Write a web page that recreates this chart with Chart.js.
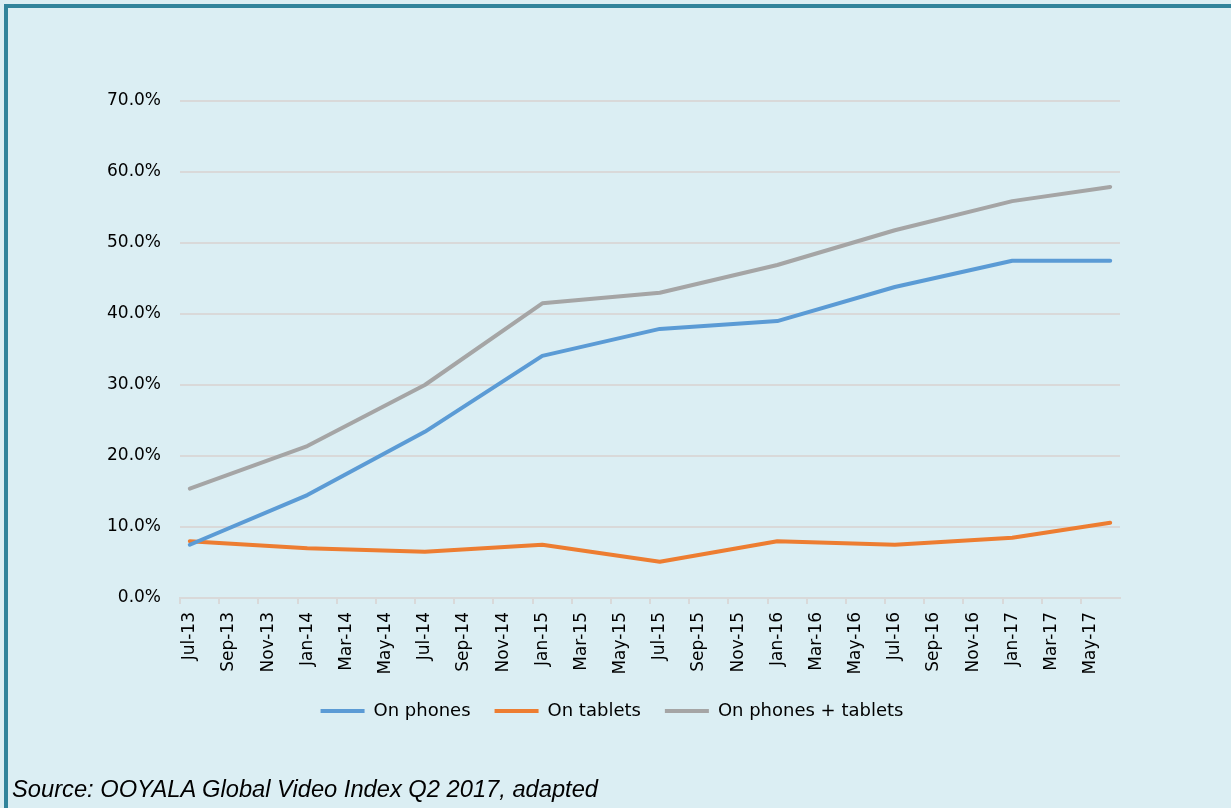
<!DOCTYPE html>
<html>
<head>
<meta charset="utf-8">
<script src="https://cdn.jsdelivr.net/npm/chart.js@4/dist/chart.umd.min.js"></script>
<style>
  html, body { margin: 0; padding: 0; background: #dbeef3; }
  #wrap { position: relative; width: 1231px; height: 808px; overflow: hidden; background: #dbeef3; }
  #topBorder { position: absolute; left: 4px; top: 4px; width: 1227px; height: 4px; background: #31849b; }
  #leftBorder { position: absolute; left: 4px; top: 4px; width: 4px; height: 804px; background: #31849b; }
  #chart { position: absolute; left: 0; top: 0; }
  #source { position: absolute; left: 12px; top: 776px; font: italic 23.7px "Liberation Sans", Arial, sans-serif; color: #000; white-space: nowrap; }
</style>
</head>
<body>
<div id="wrap">
  <div id="topBorder"></div>
  <div id="leftBorder"></div>
  <canvas id="chart" width="1231" height="808"></canvas>
  <div id="source">Source: OOYALA Global Video Index Q2 2017, adapted</div>
</div>
<script>
// monthly categories, Jul-13 .. Jun-17
const months = [
  "Jul-13", "Aug-13", "Sep-13", "Oct-13", "Nov-13", "Dec-13",
  "Jan-14", "Feb-14", "Mar-14", "Apr-14", "May-14", "Jun-14",
  "Jul-14", "Aug-14", "Sep-14", "Oct-14", "Nov-14", "Dec-14",
  "Jan-15", "Feb-15", "Mar-15", "Apr-15", "May-15", "Jun-15",
  "Jul-15", "Aug-15", "Sep-15", "Oct-15", "Nov-15", "Dec-15",
  "Jan-16", "Feb-16", "Mar-16", "Apr-16", "May-16", "Jun-16",
  "Jul-16", "Aug-16", "Sep-16", "Oct-16", "Nov-16", "Dec-16",
  "Jan-17", "Feb-17", "Mar-17", "Apr-17", "May-17", "Jun-17"
];

// labels shown on the axis (every second month)
const tickLabels = [
  "Jul-13", "Sep-13", "Nov-13", "Jan-14", "Mar-14", "May-14",
  "Jul-14", "Sep-14", "Nov-14", "Jan-15", "Mar-15", "May-15",
  "Jul-15", "Sep-15", "Nov-15", "Jan-16", "Mar-16", "May-16",
  "Jul-16", "Sep-16", "Nov-16", "Jan-17", "Mar-17", "May-17"
];

// months that have a measurement
const pointMonths = ["Jul-13", "Jan-14", "Jul-14", "Jan-15", "Jul-15", "Jan-16", "Jul-16", "Jan-17", "Jun-17"];

const onPhones  = [7.5, 14.5, 23.4, 34.1, 37.9, 39.0, 43.8, 47.5, 47.5];
const onTablets = [8.0, 7.0, 6.5, 7.5, 5.1, 8.0, 7.5, 8.5, 10.6];
const onBoth    = [15.4, 21.4, 30.0, 41.5, 43.0, 46.9, 51.8, 55.9, 57.9];

const yTicks = [0, 10, 20, 30, 40, 50, 60, 70];

function toPoints(values) {
  return pointMonths.map((m, i) => ({ x: m, y: values[i] }));
}

function lineSet(label, values, color) {
  return {
    label: label,
    data: toPoints(values),
    borderColor: color,
    backgroundColor: color,
    borderWidth: 4,
    borderCapStyle: "round",
    borderJoinStyle: "round",
    pointRadius: 0,
    pointHoverRadius: 0,
    tension: 0,
    spanGaps: true,
    pointStyle: "line"
  };
}

Chart.defaults.font.family = "'DejaVu Sans', sans-serif";
Chart.defaults.font.size = 17;
Chart.defaults.color = "#000";

const ctx = document.getElementById("chart");
const chart = new Chart(ctx, {
  type: "line",
  data: {
    labels: months,
    datasets: [
      lineSet("On phones", onPhones, "#5b9bd5"),
      lineSet("On tablets", onTablets, "#ed7d31"),
      lineSet("On phones + tablets", onBoth, "#a5a5a5")
    ]
  },
  options: {
    responsive: false,
    animation: false,
    devicePixelRatio: 1,
    layout: { padding: { left: 104, right: 111, top: 101, bottom: 78 } },
    plugins: {
      tooltip: { enabled: false },
      legend: {
        position: "bottom",
        labels: {
          usePointStyle: true,
          pointStyleWidth: 44,
          padding: 24,
          color: "#000",
          font: { size: 18 }
        }
      }
    },
    scales: {
      x: {
        type: "category",
        offset: true,
        afterFit: (s) => { s.height = 80; },
        border: { display: true, color: "#d9d9d9", width: 2 },
        grid: {
          offset: true,
          drawOnChartArea: false,
          drawTicks: true,
          tickLength: 6,
          lineWidth: 2,
          color: (c) => (c.index % 2 === 0 ? "#d9d9d9" : "rgba(0,0,0,0)")
        },
        ticks: {
          autoSkip: false,
          minRotation: 90,
          maxRotation: 90,
          padding: 8,
          callback: (v, i) => (i % 2 === 0 ? tickLabels[i / 2] : "")
        }
      },
      y: {
        min: 0,
        max: 70,
        afterFit: (s) => { s.width = 76; },
        afterBuildTicks: (s) => { s.ticks = yTicks.map(v => ({ value: v })); },
        border: { display: false },
        grid: { color: "#d9d9d9", lineWidth: 2, drawTicks: false },
        ticks: {
          padding: 19,
          callback: (v) => v.toFixed(1) + "%"
        }
      }
    }
  }
});
</script>
</body>
</html>
